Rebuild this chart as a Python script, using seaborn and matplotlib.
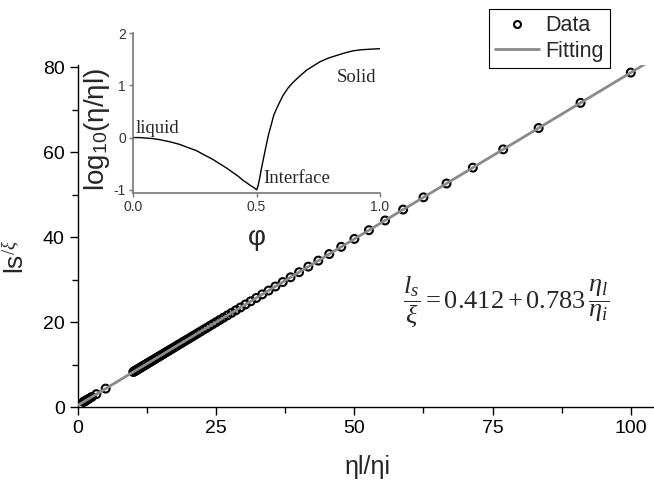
import numpy as np
import matplotlib
matplotlib.use('Agg')
import matplotlib.pyplot as plt
import seaborn as sns
from matplotlib.ticker import MultipleLocator, FormatStrFormatter
from matplotlib.lines import Line2D

# main data: viscosity ratio eta_l/eta_i vs slip length l_s/xi
eta_ratio = [100.00, 90.91, 83.33, 76.92, 71.43, 66.67, 62.50, 58.82, 55.56, 52.63,
             50.00, 47.62, 45.45, 43.48, 41.67, 40.00, 38.46, 37.04, 35.71, 34.48,
             33.33, 32.26, 31.25, 30.30, 29.41, 28.57, 27.78, 27.03, 26.32, 25.64,
             25.00, 24.39, 23.81, 23.26, 22.73, 22.22, 21.74, 21.28, 20.83, 20.41,
             20.00, 19.61, 19.23, 18.87, 18.52, 18.18, 17.86, 17.54, 17.24, 16.95,
             16.67, 16.39, 16.13, 15.87, 15.63, 15.38, 15.15, 14.93, 14.71, 14.49,
             14.29, 14.08, 13.89, 13.70, 13.51, 13.33, 13.16, 12.99, 12.82, 12.66,
             12.50, 12.35, 12.20, 12.05, 11.90, 11.76, 11.63, 11.49, 11.36, 11.24,
             11.11, 10.99, 10.87, 10.75, 10.64, 10.53, 10.42, 10.31, 10.20, 10.10,
             10.00, 5.00, 3.33, 2.50, 2.00, 1.67, 1.43, 1.25, 1.11, 1.00]
slip_len = [78.71, 71.59, 65.66, 60.64, 56.34, 52.61, 49.35, 46.47, 43.91, 41.62,
            39.56, 37.70, 36.00, 34.46, 33.04, 31.73, 30.53, 29.41, 28.37, 27.41,
            26.51, 25.67, 24.88, 24.14, 23.44, 22.78, 22.16, 21.58, 21.02, 20.49,
            19.99, 19.51, 19.06, 18.62, 18.21, 17.81, 17.43, 17.07, 16.72, 16.39,
            16.07, 15.77, 15.47, 15.19, 14.91, 14.65, 14.40, 14.15, 13.91, 13.68,
            13.46, 13.25, 13.04, 12.84, 12.65, 12.45, 12.27, 12.10, 11.93, 11.76,
            11.60, 11.44, 11.29, 11.14, 10.99, 10.85, 10.72, 10.58, 10.45, 10.32,
            10.20, 10.08, 9.96, 9.85, 9.73, 9.62, 9.52, 9.41, 9.31, 9.21,
            9.11, 9.02, 8.92, 8.83, 8.74, 8.66, 8.57, 8.48, 8.40, 8.32,
            8.24, 4.33, 3.02, 2.37, 1.98, 1.72, 1.53, 1.39, 1.28, 1.20]

# linear fit l_s/xi = a + b * eta_l/eta_i
fit_a = 0.412
fit_b = 0.783
fit_range = [0, 105]

# inset: log10 viscosity profile across the interface
phi = [0.0, 0.027, 0.081, 0.108, 0.149, 0.189, 0.216, 0.257, 0.284, 0.324,
       0.351, 0.378, 0.405, 0.426, 0.446, 0.459, 0.473, 0.484, 0.493, 0.501,
       0.507, 0.514, 0.520, 0.527, 0.534, 0.541, 0.550, 0.561, 0.570, 0.581,
       0.595, 0.608, 0.628, 0.649, 0.676, 0.703, 0.730, 0.757, 0.791, 0.824,
       0.858, 0.892, 0.926, 0.959, 1.0]
log_visc = [0.0, 0.0, -0.02, -0.04, -0.08, -0.13, -0.18, -0.25, -0.32, -0.42,
            -0.50, -0.58, -0.67, -0.74, -0.82, -0.86, -0.91, -0.94, -0.97, -1.00,
            -0.91, -0.75, -0.59, -0.43, -0.27, -0.11, 0.08, 0.27, 0.43, 0.55,
            0.69, 0.81, 0.95, 1.06, 1.18, 1.29, 1.37, 1.45, 1.52, 1.57,
            1.62, 1.66, 1.68, 1.69, 1.70]

sns.set_style('ticks')
plt.rcParams['font.family'] = ['Liberation Sans', 'DejaVu Sans']
plt.rcParams['mathtext.fontset'] = 'custom'
plt.rcParams['mathtext.rm'] = 'Liberation Serif'
plt.rcParams['mathtext.it'] = 'Liberation Serif:italic'
plt.rcParams['mathtext.sf'] = 'Liberation Sans'
plt.rcParams['axes.unicode_minus'] = False

fig = plt.figure(figsize=(6.54, 4.91), dpi=100)
ax = fig.add_axes([78 / 654, 84 / 491, 576 / 654, 342 / 491])

sns.scatterplot(x=eta_ratio, y=slip_len, ax=ax, marker='o', s=32,
                facecolor='none', edgecolor='black', linewidth=1.5, zorder=2)
fit_x = np.array(fit_range, dtype=float)
sns.lineplot(x=fit_x, y=fit_a + fit_b * fit_x, ax=ax, color='#8a8a8a', lw=2, zorder=3)

ax.set_xlim(0, 104.2)
ax.set_ylim(0, 80.5)
ax.xaxis.set_major_locator(MultipleLocator(25))
ax.xaxis.set_minor_locator(MultipleLocator(12.5))
ax.yaxis.set_major_locator(MultipleLocator(20))
ax.yaxis.set_minor_locator(MultipleLocator(10))
ax.tick_params(which='major', direction='out', length=6, width=1, labelsize=14,
               color='black', labelcolor='black')
ax.tick_params(which='minor', direction='out', length=4, width=1, color='black')
sns.despine(ax=ax)
for s in ['left', 'bottom']:
    ax.spines[s].set_color('black')
    ax.spines[s].set_linewidth(1)

ax.set_xlabel('ηl/ηi', fontsize=18)
ax.xaxis.set_label_coords(0.503, -0.14)
ax.set_ylabel(r'ls$^{/\xi}$', fontsize=19)
ax.yaxis.set_label_coords(-0.085, 0.44)

fig.text(506 / 654, 1 - 302 / 491,
         r'$\dfrac{l_s}{\xi} = 0.412 + 0.783\,\dfrac{\eta_l}{\eta_i}$',
         fontsize=19, ha='center', va='center')

handles = [Line2D([], [], marker='o', ls='none', mfc='none', mec='black', mew=1.5,
                  ms=5, label='Data'),
           Line2D([], [], color='#8a8a8a', lw=2, label='Fitting')]
leg = fig.legend(handles=handles, loc='upper left', bbox_to_anchor=(489 / 654, 1 - 9 / 491),
                 frameon=True, fancybox=False, edgecolor='black', fontsize=15.5,
                 handlelength=2.0, handletextpad=0.3, borderpad=0.3, labelspacing=0.2,
                 borderaxespad=0, framealpha=1)
leg.get_frame().set_linewidth(0.8)

# inset
ax_in = fig.add_axes([133 / 654, 1 - 193 / 491, 247 / 654, 160 / 491])
ax_in.patch.set_alpha(0)
sns.lineplot(x=phi, y=log_visc, ax=ax_in, color='black', lw=1)
ax_in.set_xlim(0, 1.0)
ax_in.set_ylim(-1.06, 2.0)
ax_in.set_xticks([0, 0.5, 1.0])
ax_in.set_yticks([-1, 0, 1, 2])
ax_in.xaxis.set_major_formatter(FormatStrFormatter('%.1f'))
ax_in.tick_params(direction='out', length=3, width=1, labelsize=10,
                  color='#777777', labelcolor='#333333', pad=2)
sns.despine(ax=ax_in)
for s in ['left', 'bottom']:
    ax_in.spines[s].set_color('#777777')
    ax_in.spines[s].set_linewidth(1.2)
ax_in.set_xlabel('φ', fontsize=20)
ax_in.xaxis.set_label_coords(0.5, -0.2)
ax_in.set_ylabel(r'log$_{\mathsf{10}}$(η/ηl)', fontsize=20)
ax_in.yaxis.set_label_coords(-0.085, 0.40)

ax_in.text(0.012, 0.08, 'liquid', family='Liberation Serif', fontsize=13.5)
ax_in.text(0.526, -0.87, 'Interface', family='Liberation Serif', fontsize=13.5)
ax_in.text(0.826, 1.06, 'Solid', family='Liberation Serif', fontsize=13.5)

fig.savefig('out.png', dpi=100)
